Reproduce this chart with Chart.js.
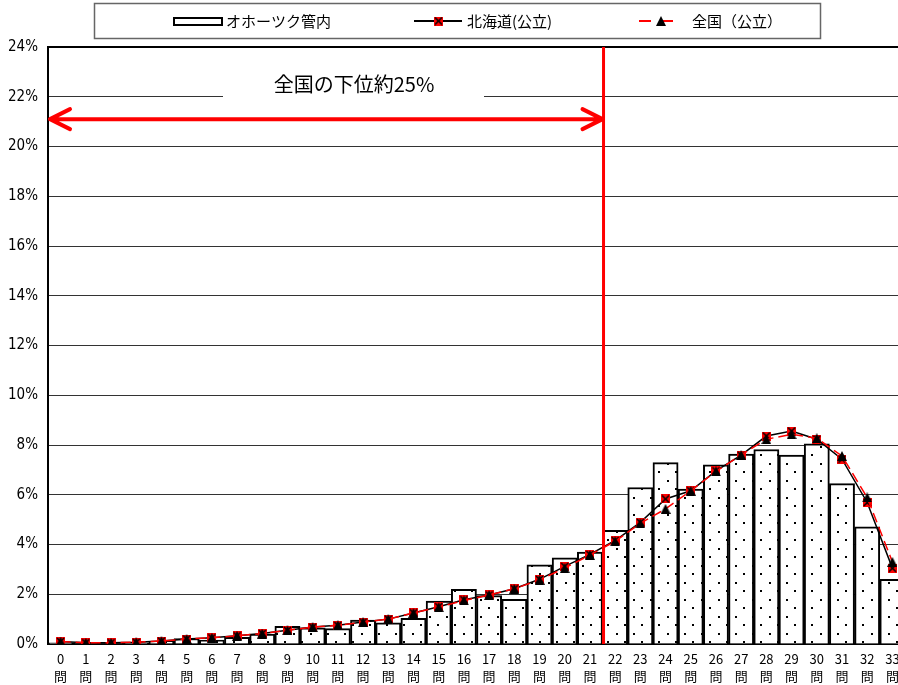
<!DOCTYPE html>
<html>
<head>
<meta charset="utf-8">
<script src="https://cdn.jsdelivr.net/npm/chart.js@4.4.1/dist/chart.umd.min.js"></script>
<style>
  html, body { margin: 0; padding: 0; background: #fff; overflow: hidden; }
  #wrap { width: 912px; height: 685px; }
</style>
</head>
<body>
<div id="wrap"><canvas id="grafica" width="912" height="685"></canvas></div>
<script>
  // 正答数（問）
  const categorias = ['0','1','2','3','4','5','6','7','8','9','10','11','12','13','14','15','16',
    '17','18','19','20','21','22','23','24','25','26','27','28','29','30','31','32','33'];

  // オホーツク管内（%）
  const okhotsk = [0.05, 0.02, 0.02, 0.05, 0.11, 0.22, 0.16, 0.27, 0.40, 0.71, 0.65, 0.62, 0.96, 0.85, 1.03,
    1.73, 2.20, 1.95, 1.80, 3.18, 3.46, 3.70, 4.57, 6.29, 7.29, 6.23, 7.20, 7.63, 7.82, 7.59, 8.05, 6.45, 4.71, 2.60];

  // 北海道（公立）（%）
  const hokkaido = [0.10, 0.05, 0.05, 0.07, 0.12, 0.20, 0.25, 0.33, 0.42, 0.55, 0.68, 0.75, 0.88, 1.00, 1.25,
    1.50, 1.78, 1.97, 2.22, 2.60, 3.12, 3.60, 4.16, 4.89, 5.83, 6.16, 6.96, 7.59, 8.36, 8.56, 8.23, 7.43, 5.69, 3.05];

  // 全国（公立）（%）
  const zenkoku = [0.10, 0.05, 0.05, 0.07, 0.12, 0.20, 0.25, 0.33, 0.42, 0.55, 0.68, 0.75, 0.88, 1.00, 1.25,
    1.48, 1.75, 1.97, 2.22, 2.58, 3.05, 3.58, 4.13, 4.85, 5.43, 6.16, 6.94, 7.60, 8.23, 8.43, 8.27, 7.56, 5.89, 3.30];

  const yTicks = [0, 2, 4, 6, 8, 10, 12, 14, 16, 18, 20, 22, 24];
  const cutoffIndex = 21;        // 全国の下位約25%の境目（21問と22問の間）
  const arrowLevel = 21.1;       // 矢印の高さ（%）
  const textLevel = 22.5;        // 注記の高さ（%）
  const nota = '全国の下位約25%';

  const ROJO = '#ff0000';
  const FUENTE_JP = '"Noto Sans CJK JP", "Noto Sans", sans-serif';
  const FUENTE_NUM = '"Liberation Sans Narrow", "DejaVu Sans Condensed", "Liberation Sans", sans-serif';

  // 点描パターン
  function crearPatron() {
    const c = document.createElement('canvas');
    c.width = 17; c.height = 17;
    const g = c.getContext('2d');
    g.fillStyle = '#fff';
    g.fillRect(0, 0, 17, 17);
    g.fillStyle = '#000';
    g.fillRect(4, 4, 2, 2);
    g.fillRect(12, 12, 2, 2);
    return document.getElementById('grafica').getContext('2d').createPattern(c, 'repeat');
  }

  // 赤い四角に黒い×
  function crearMarcaX(t) {
    const c = document.createElement('canvas');
    c.width = t; c.height = t;
    const g = c.getContext('2d');
    g.fillStyle = ROJO;
    g.fillRect(0, 0, t, t);
    g.strokeStyle = '#000';
    g.lineWidth = 1.5;
    g.beginPath();
    g.moveTo(1, 1); g.lineTo(t - 1, t - 1);
    g.moveTo(t - 1, 1); g.lineTo(1, t - 1);
    g.stroke();
    return c;
  }

  function crearTriangulo(t) {
    const c = document.createElement('canvas');
    c.width = t; c.height = t;
    const g = c.getContext('2d');
    g.fillStyle = '#000';
    g.beginPath();
    g.moveTo(t / 2, 0); g.lineTo(t, t); g.lineTo(0, t);
    g.closePath();
    g.fill();
    return c;
  }

  const marcaX = crearMarcaX(9);
  const triangulo = crearTriangulo(10);

  const extras = {
    id: 'extras',
    afterDatasetsDraw(chart) {
      const ctx = chart.ctx;
      const x = chart.scales.x, y = chart.scales.y;
      const area = chart.chartArea;
      const xCorte = (x.getPixelForValue(cutoffIndex) + x.getPixelForValue(cutoffIndex + 1)) / 2 + 1;
      ctx.save();
      // 縦線
      ctx.strokeStyle = ROJO;
      ctx.lineWidth = 3;
      ctx.beginPath();
      ctx.moveTo(xCorte, area.top);
      ctx.lineTo(xCorte, area.bottom);
      ctx.stroke();
      // 矢印
      const yA = y.getPixelForValue(arrowLevel);
      const x0 = area.left + 2, x1 = xCorte - 1;
      ctx.lineWidth = 4;
      ctx.lineCap = 'round';
      ctx.lineJoin = 'round';
      ctx.beginPath();
      ctx.moveTo(x0, yA); ctx.lineTo(x1, yA);
      ctx.moveTo(x0 + 20, yA - 10); ctx.lineTo(x0, yA); ctx.lineTo(x0 + 20, yA + 10);
      ctx.moveTo(x1 - 20, yA - 10); ctx.lineTo(x1, yA); ctx.lineTo(x1 - 20, yA + 10);
      ctx.stroke();
      // 注記
      const yT = y.getPixelForValue(textLevel);
      ctx.fillStyle = '#fff';
      ctx.fillRect(223, yT - 14, 261, 28);
      ctx.fillStyle = '#000';
      ctx.font = '20px ' + FUENTE_JP;
      ctx.textAlign = 'center';
      ctx.textBaseline = 'middle';
      ctx.fillText(nota, 354, yT);
      ctx.restore();
    },
    afterDraw(chart) {
      // 凡例
      const ctx = chart.ctx;
      ctx.save();
      ctx.strokeStyle = '#666';
      ctx.lineWidth = 1.5;
      ctx.strokeRect(94.5, 3.5, 726, 35);
      ctx.font = '15px ' + FUENTE_JP;
      ctx.fillStyle = '#000';
      ctx.textAlign = 'left';
      ctx.textBaseline = 'middle';
      const yl = 21;
      // オホーツク管内
      ctx.strokeStyle = '#000';
      ctx.lineWidth = 2;
      ctx.strokeRect(174, yl - 3, 48, 7);
      ctx.fillText('オホーツク管内', 226, yl);
      // 北海道
      ctx.lineWidth = 2;
      ctx.beginPath();
      ctx.moveTo(414, yl); ctx.lineTo(462, yl);
      ctx.stroke();
      ctx.drawImage(marcaX, 434, yl - 4.5);
      ctx.fillText('北海道(公立)', 467, yl);
      // 全国
      ctx.strokeStyle = ROJO;
      ctx.setLineDash([12, 10]);
      ctx.beginPath();
      ctx.moveTo(639, yl); ctx.lineTo(683, yl);
      ctx.stroke();
      ctx.setLineDash([]);
      ctx.drawImage(triangulo, 656, yl - 5);
      ctx.fillText('全国（公立）', 692, yl);
      ctx.restore();
    }
  };

  const ctx = document.getElementById('grafica').getContext('2d');
  window.miGrafica = new Chart(ctx, {
    data: {
      labels: categorias,
      datasets: [
        {
          type: 'line',
          label: '全国（公立）',
          data: zenkoku,
          borderColor: ROJO,
          borderWidth: 1.5,
          borderDash: [10, 5],
          pointStyle: triangulo,
          order: 1
        },
        {
          type: 'line',
          label: '北海道(公立)',
          data: hokkaido,
          borderColor: '#000',
          borderWidth: 1.5,
          pointStyle: marcaX,
          order: 2
        },
        {
          type: 'bar',
          label: 'オホーツク管内',
          data: okhotsk,
          backgroundColor: crearPatron(),
          borderColor: '#000',
          borderWidth: 2,
          categoryPercentage: 1,
          barPercentage: 1,
          order: 3
        }
      ]
    },
    options: {
      responsive: false,
      animation: false,
      layout: { padding: { top: 47, right: 7, left: 0, bottom: 0 } },
      plugins: {
        legend: { display: false },
        tooltip: { enabled: false }
      },
      scales: {
        x: {
          offset: true,
          grid: { display: false, drawTicks: false },
          border: { color: '#000', width: 2 },
          ticks: {
            color: '#000',
            font: { family: FUENTE_JP, size: 13, lineHeight: 1.35 },
            padding: 6,
            maxRotation: 0,
            minRotation: 0,
            autoSkip: false,
            callback: function (v, i) { return [categorias[i], '問']; }
          },
          afterFit(s) { s.height = 41; }
        },
        y: {
          min: 0,
          max: 24,
          afterBuildTicks(s) { s.ticks = yTicks.map(v => ({ value: v })); },
          grid: {
            drawTicks: false,
            color: (c) => c.tick && c.tick.value === 24 ? '#000' : '#333',
            lineWidth: (c) => c.tick && c.tick.value === 24 ? 2 : 1
          },
          border: { color: '#000', width: 2 },
          ticks: {
            color: '#000',
            padding: 10,
            font: { family: FUENTE_NUM, size: 15 },
            callback: (v) => v + '%'
          },
          afterFit(s) { s.width = 48; }
        }
      }
    },
    plugins: [extras]
  });
</script>
</body>
</html>
